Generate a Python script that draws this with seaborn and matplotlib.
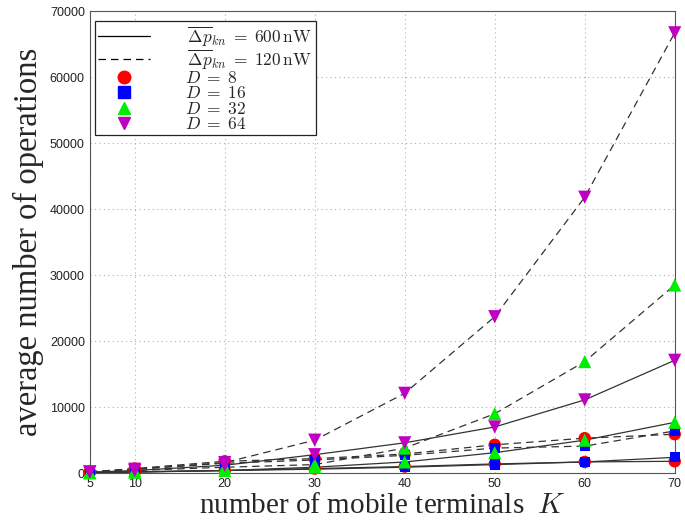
#!/usr/bin/env python3

import pandas as pd
import numpy as np
import matplotlib.pyplot as plt
import seaborn as sns

# number of mobile terminals K
K = [5, 10, 20, 30, 40, 50, 60, 70]

# average number of operations, solid = 600 nW, dashed = 120 nW
d8_solid = [100, 200, 400, 700, 1000, 1400, 1700, 1800]
d8_dashed = [200, 700, 1800, 2200, 2900, 4300, 5300, 5900]
d16_solid = [100, 200, 400, 600, 900, 1300, 1700, 2400]
d16_dashed = [200, 600, 1500, 2000, 2700, 3800, 4100, 6400]
d32_solid = [50, 150, 400, 900, 1700, 3100, 5000, 7700]
d32_dashed = [100, 400, 900, 1300, 3800, 9000, 16900, 28500]
d64_solid = [150, 400, 1200, 2800, 4600, 7000, 11100, 17100]
d64_dashed = [200, 600, 1600, 5000, 12100, 23700, 41800, 66700]

D_values = [8, 16, 32, 64]
colors = ['#ff0000', '#0000ff', '#00ee00', '#c000c0']
markers = ['o', 's', '^', 'v']
sizes = [80, 55, 90, 90]

sns.set_style('white')
plt.rcParams['font.family'] = ['Liberation Sans', 'DejaVu Sans']
plt.rcParams['mathtext.fontset'] = 'cm'

rows = []
series = [(8, 'solid', d8_solid), (8, 'dashed', d8_dashed),
          (16, 'solid', d16_solid), (16, 'dashed', d16_dashed),
          (32, 'solid', d32_solid), (32, 'dashed', d32_dashed),
          (64, 'solid', d64_solid), (64, 'dashed', d64_dashed)]
for d, style, vals in series:
    for k, v in zip(K, vals):
        rows.append({'K': k, 'ops': v, 'D': d, 'style': style})
df = pd.DataFrame(rows)

fig = plt.figure(figsize=(6.85, 5.24), dpi=100)
ax = fig.add_axes([0.131, 0.097, 0.854, 0.882])

# black lines
for (d, style), grp in df.groupby(['D', 'style']):
    sns.lineplot(data=grp, x='K', y='ops', ax=ax, color='#333333', lw=0.9,
                 linestyle='-' if style == 'solid' else (0, (6, 4)),
                 legend=False, zorder=2)

# coloured markers
for d, c, m, s in zip(D_values, colors, markers, sizes):
    sub = df[df['D'] == d]
    sns.scatterplot(data=sub, x='K', y='ops', ax=ax, color=c, marker=m,
                    s=s, edgecolor='none', legend=False, zorder=3,
                    clip_on=False)

ax.set_xlim(5, 70)
ax.set_ylim(0, 70000)
ax.set_xticks(K)
ax.set_yticks(np.arange(0, 70001, 10000))
ax.tick_params(direction='in', length=4, labelsize=9, colors='#222222')
ax.grid(True, linestyle=(0, (1, 3)), color='#b0b0b0', lw=0.8)
for sp in ax.spines.values():
    sp.set_color('#555555')

ax.set_xlabel(r'number of mobile terminals  $K$', family='Liberation Serif',
              fontsize=21, labelpad=2)
ax.set_ylabel('average number of operations', family='Liberation Serif',
              fontsize=23.5, labelpad=4)

# legend
handles = [plt.Line2D([], [], color='k', lw=0.9),
           plt.Line2D([], [], color='k', lw=0.9, linestyle=(0, (6, 4)))]
labels = [r'$\,\overline{\Delta p}_{kn}\;=\;600\,\mathrm{nW}$',
          r'$\,\overline{\Delta p}_{kn}\;=\;120\,\mathrm{nW}$']
for d, c, m in zip(D_values, colors, markers):
    handles.append(plt.Line2D([], [], color=c, marker=m, linestyle='none',
                              markersize=9))
    labels.append(rf'$D\;=\;{d}$')
leg = ax.legend(handles, labels, loc='upper left', fontsize=12.5,
                bbox_to_anchor=(0.0, 0.99), fancybox=False, framealpha=1,
                edgecolor='#222222', handlelength=3.0, borderpad=0.2,
                labelspacing=-0.05, handletextpad=2.0, borderaxespad=0.3)
leg.get_frame().set_linewidth(0.9)

fig.savefig('out.png', dpi=100)
